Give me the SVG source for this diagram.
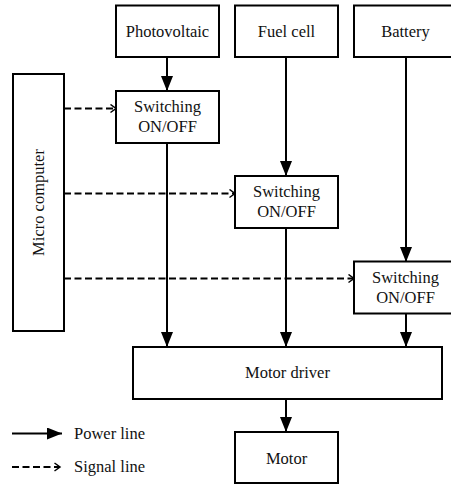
<svg xmlns="http://www.w3.org/2000/svg" width="451" height="484" viewBox="0 0 451 484">
<style>
  .box { fill: #fff; stroke: #000; stroke-width: 2; }
  text { font-family: "Liberation Serif", "Times New Roman", serif; font-size: 16.5px; fill: #111; }
  .t { text-anchor: middle; }
  .pw { stroke: #000; stroke-width: 2; fill: none; marker-end: url(#ah); }
  .sg { stroke: #000; stroke-width: 1.8; fill: none; stroke-dasharray: 7 3.5; marker-end: url(#oh); }
</style>
<defs>
  <marker id="ah" markerUnits="userSpaceOnUse" markerWidth="15" markerHeight="12" refX="15" refY="6" orient="auto">
    <path d="M0,0 L15,6 L0,12 z" fill="#000"/>
  </marker>
  <marker id="oh" markerUnits="userSpaceOnUse" markerWidth="9" markerHeight="10" refX="7" refY="5" orient="auto">
    <path d="M1.5,1 L7,5 L1.5,9" fill="none" stroke="#000" stroke-width="1.5"/>
  </marker>
</defs>
<rect width="451" height="484" fill="#fff"/>
<g id="connectors">
  <line class="pw" x1="167" y1="57" x2="167" y2="91"/>
  <line class="pw" x1="167" y1="143" x2="167" y2="347"/>
  <line class="pw" x1="286" y1="57" x2="286" y2="176"/>
  <line class="pw" x1="286" y1="228" x2="286" y2="347"/>
  <line class="pw" x1="406" y1="57" x2="406" y2="262"/>
  <line class="pw" x1="406" y1="313" x2="406" y2="347"/>
  <line class="pw" x1="286" y1="399" x2="286" y2="432"/>
  <line class="sg" x1="64" y1="108.5" x2="116" y2="108.5"/>
  <line class="sg" x1="64" y1="193.5" x2="235" y2="193.5"/>
  <line class="sg" x1="64" y1="278.5" x2="354" y2="278.5"/>
</g>
<g id="photovoltaic"><rect class="box" x="116" y="5.5" width="103" height="51.5"/><text class="t" x="167.5" y="37">Photovoltaic</text></g>
<g id="fuelcell"><rect class="box" x="235" y="5.5" width="103" height="51.5"/><text class="t" x="286.5" y="37">Fuel cell</text></g>
<g id="battery"><rect class="box" x="354" y="5.5" width="103" height="51.5"/><text class="t" x="405.5" y="37">Battery</text></g>
<g id="switch1"><rect class="box" x="116" y="91" width="103" height="52"/><text class="t" x="167.5" y="112">Switching</text><text class="t" x="167.5" y="132">ON/OFF</text></g>
<g id="switch2"><rect class="box" x="235" y="176" width="103" height="52"/><text class="t" x="286.5" y="197">Switching</text><text class="t" x="286.5" y="217">ON/OFF</text></g>
<g id="switch3"><rect class="box" x="354" y="261.5" width="103" height="52"/><text class="t" x="405.5" y="283">Switching</text><text class="t" x="405.5" y="303">ON/OFF</text></g>
<g id="microcomputer"><rect class="box" x="13" y="74" width="51" height="257"/><text class="t" transform="translate(44,202.5) rotate(-90)">Micro computer</text></g>
<g id="motordriver"><rect class="box" x="133" y="347" width="309" height="52"/><text class="t" x="287.5" y="378">Motor driver</text></g>
<g id="motor"><rect class="box" x="235" y="432" width="103" height="51"/><text class="t" x="286.5" y="464">Motor</text></g>
<g id="legend">
  <line class="pw" x1="12" y1="433.5" x2="62" y2="433.5"/>
  <text x="74" y="438.5">Power line</text>
  <line class="sg" x1="12" y1="467" x2="60" y2="467"/>
  <text x="74" y="472">Signal line</text>
</g>
</svg>
